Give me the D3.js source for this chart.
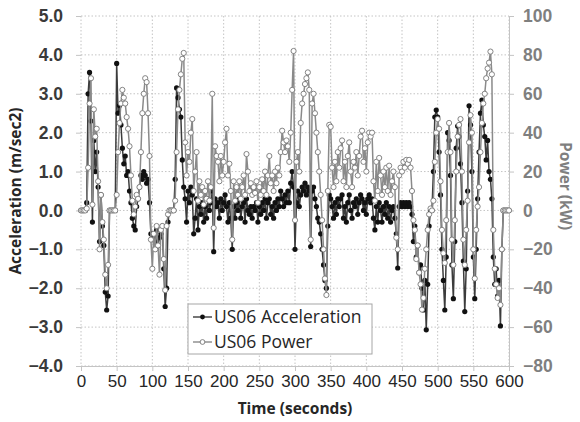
<!DOCTYPE html>
<html>
<head>
<meta charset="utf-8">
<script src="https://cdn.jsdelivr.net/npm/d3@7"></script>
<style>
  body { margin: 0; background: #fff; }
  svg { font-family: "Open Sans", sans-serif; }
</style>
</head>
<body>
<div id="chart"></div>
<script>
var sampleStep = 2;

var accel = [
  0,0,0,0,0.2,3.0,3.55,2.3,-0.3,1.8,
  1.0,1.5,0.6,-0.8,0.4,-0.4,-0.9,-2.1,-2.56,-2.2,
  0,0,0,0,0,3.78,2.5,2.7,2.2,1.6,
  1.2,1.4,0.9,1.0,0.5,0.2,-0.2,-0.4,-0.5,0.1,
  0.3,0.6,0.9,0.8,1.0,0.9,0.7,0.8,0.2,-0.6,
  -0.7,-0.6,-0.8,-0.5,-0.9,-0.7,-0.6,-0.4,-1.5,-2.47,
  -2.0,-0.3,0,0,0,0,0.8,3.15,2.9,2.6,
  2.4,1.3,0.6,0.3,-0.3,0.5,0.2,0.6,0.4,-0.6,
  -0.2,0.3,-0.5,0.1,-0.1,0.2,-0.3,0.1,-0.2,0.3,
  0,0.2,0.5,-1.06,0.3,0.1,0.2,-0.2,0.3,0,
  0.2,0.4,0.1,-0.3,0.2,-0.2,-1.0,0.1,-0.2,0.2,
  0,0.3,-0.2,0.1,0.2,-0.3,0.3,0,-0.1,0.1,
  -0.2,0.1,0,0.2,-0.3,0.1,-0.1,0.2,0,0.3,
  -0.2,0.2,0.3,-0.1,0.1,-0.2,0.2,0,0.3,0.1,
  0.5,0.3,0.1,0.4,0.2,0.5,0.2,0.7,1.0,0.6,
  -1.0,0.2,0.5,0.1,0.4,0.6,0.5,0.7,0.4,0.6,
  0.5,-0.93,0.5,0.6,0.3,0.1,-0.2,-0.3,-0.6,-1.0,
  -1.4,-1.8,-2.0,-0.4,0.4,0.3,0.1,-0.2,0.2,-0.1,
  0.3,0.1,0.3,0.4,-0.2,0.1,-0.3,0.2,0.4,0,
  -0.2,0.2,0.1,0.3,-0.1,0.2,0.4,0.3,0,0.2,
  -0.1,0.3,0.4,0.2,0.3,-0.2,-0.5,0.1,-0.3,0.2,
  0,-0.3,0.1,-0.1,0.2,-0.2,0.1,-0.3,0,0.1,
  -0.2,-0.6,-1.48,0.1,0.2,0.1,0.2,0.1,0.2,0.1,
  0.2,0.1,-0.1,-0.8,-0.4,-1.2,-0.9,-1.6,-1.4,-2.0,
  -2.56,-1.8,-3.07,-1.9,-0.4,0,0,1.0,2.4,2.58,
  2.4,1.5,0.4,-1.0,-1.8,-2.56,-1.2,2.0,1.8,0.9,
  -1.4,-2.27,-0.8,1.6,2.17,1.9,1.2,0.2,-1.3,-2.6,
  -1.5,0.5,2.69,2.2,1.0,-1.2,-2.27,-1.0,0.3,1.5,
  2.5,2.84,2.2,1.9,1.3,1.8,1.0,0.8,0.3,-1.2,
  -1.9,-1.5,-2.2,-1.8,-2.97,-1.0,0,0,0,0,
  0
];

var power = [
  0,0,0,0,1,22,55,68,3,52,
  38,42,15,-20,8,-6,-15,-33,-40,-28,
  0,0,0,0,0,8,30,45,55,62,
  58,55,48,42,33,18,5,-2,2,8,
  6,12,30,50,60,68,66,50,28,-15,
  -30,-12,-20,-8,-18,-33,-10,-8,-25,-41,
  -8,-2,0,0,0,0,5,30,52,62,
  70,78,81,35,18,30,25,40,47,10,
  20,30,5,15,8,12,3,10,6,15,
  5,12,60,-9,33,28,25,15,28,18,
  25,35,42,18,24,10,-15,15,5,12,
  8,15,6,12,18,8,29,20,10,14,
  8,12,9,15,4,12,8,16,10,20,
  8,18,28,14,18,10,20,14,22,18,
  30,41,35,30,36,33,25,40,62,82,
  -5,25,30,20,45,55,60,65,68,71,
  62,-15,55,60,50,40,30,20,8,-5,
  -20,-35,-43.5,10,44,43,22,12,25,15,
  30,22,32,36,15,25,12,28,35,20,
  12,25,22,30,18,28,38,41,25,32,
  20,35,40,38,40,15,5,25,10,27,
  18,8,20,12,22,10,23,8,15,20,
  12,-14,-20,18,22,20,25,22,26,24,
  26,22,10,-5,-10,-25,-18,-32,-38,-51,
  -45,-30,-20,-10,-2,1,0,5,25,40,
  47,42,15,-10,-22,-27,-5,30,45,30,
  -15,-28,-5,20,38,44,47,20,-15,-28,
  -10,5,35,49,40,-20,-35,-10,2,12,
  30,45,55,60,68,73,76,81.7,70,-10,
  -30,-38,-45,-40,-48.6,-20,0,0,0,0,
  0
];

var timeTicks = [0,50,100,150,200,250,300,350,400,450,500,550,600];
var accelTicks = [-4,-3,-2,-1,0,1,2,3,4,5];
var powerTicks = [-80,-60,-40,-20,0,20,40,60,80,100];
var seriesNames = ["US06 Acceleration", "US06 Power"];

var width = 580, height = 422;
var margin = {left: 81, right: 71, top: 16, bottom: 56};

var svg = d3.select("#chart").append("svg")
  .attr("width", width).attr("height", height);

var x = d3.scaleLinear().domain([0, 600]).range([margin.left, width - margin.right]);
var yA = d3.scaleLinear().domain([-4, 5]).range([height - margin.bottom, margin.top]);
var yP = d3.scaleLinear().domain([-80, 100]).range([height - margin.bottom, margin.top]);

var gridColor = "#c4c4c4";

/* grid */
svg.append("g").selectAll("line").data(accelTicks).enter().append("line")
  .attr("x1", x(0)).attr("x2", x(600))
  .attr("y1", function(d){ return yA(d); }).attr("y2", function(d){ return yA(d); })
  .style("stroke", gridColor).style("stroke-dasharray", "1.5,2");
svg.append("g").selectAll("line").data(timeTicks).enter().append("line")
  .attr("x1", function(d){ return x(d); }).attr("x2", function(d){ return x(d); })
  .attr("y1", yA(5)).attr("y2", yA(-4))
  .style("stroke", gridColor).style("stroke-dasharray", "1.5,2");

/* axes */
var xAxis = svg.append("g").attr("transform", "translate(0," + yA(-4) + ")")
  .call(d3.axisBottom(x).tickValues(timeTicks).tickSize(5).tickPadding(4));
var leftAxis = svg.append("g").attr("transform", "translate(" + x(0) + ",0)")
  .call(d3.axisLeft(yA).tickValues(accelTicks).tickSize(5).tickPadding(13).tickFormat(d3.format(".1f")));
var rightAxis = svg.append("g").attr("transform", "translate(" + x(600) + ",0)")
  .call(d3.axisRight(yP).tickValues(powerTicks).tickSize(5).tickPadding(9));

[xAxis, leftAxis, rightAxis].forEach(function(a){
  a.selectAll("path, line").style("stroke", gridColor);
});
leftAxis.select("path").remove();
xAxis.selectAll("text").style("font-size", "17px").style("fill", "#262626");
leftAxis.selectAll("text").style("font-size", "17.5px").style("font-weight", "bold").style("fill", "#3a3a3a");
rightAxis.selectAll("text").style("font-size", "17.5px").style("font-weight", "bold").style("fill", "#7f7f7f");

/* titles */
svg.append("text").text("Acceleration (m/sec2)")
  .attr("transform", "translate(21," + ((yA(5) + yA(-4)) / 2) + ") rotate(-90)")
  .style("text-anchor", "middle").style("font-size", "15.5px").style("font-weight", "bold").style("fill", "#262626");
svg.append("text").text("Power (kW)")
  .attr("transform", "translate(560," + ((yA(5) + yA(-4)) / 2 - 5) + ") rotate(90)")
  .style("text-anchor", "middle").style("font-size", "15.5px").style("font-weight", "bold").style("fill", "#7f7f7f");
svg.append("text").text("Time (seconds)")
  .attr("x", (x(0) + x(600)) / 2 + 0).attr("y", 414)
  .style("text-anchor", "middle").style("font-size", "15.5px").style("font-weight", "bold").style("fill", "#262626");

/* series */
var pts = function(vals, yScale){
  return vals.map(function(v, i){ return [x(i * sampleStep), yScale(v)]; });
};
var line = d3.line();
var accPts = pts(accel, yA), powPts = pts(power, yP);

svg.append("path").attr("d", line(accPts))
  .style("fill", "none").style("stroke", "#3c3c3c").style("stroke-width", 1.5);
svg.append("g").selectAll("circle").data(accPts).enter().append("circle")
  .attr("cx", function(d){ return d[0]; }).attr("cy", function(d){ return d[1]; })
  .attr("r", 2.6).style("fill", "#111");

svg.append("path").attr("d", line(powPts))
  .style("fill", "none").style("stroke", "#8a8a8a").style("stroke-width", 1.5);
svg.append("g").selectAll("circle").data(powPts).enter().append("circle")
  .attr("cx", function(d){ return d[0]; }).attr("cy", function(d){ return d[1]; })
  .attr("r", 2.6).style("fill", "#fff").style("stroke", "#777").style("stroke-width", 0.9);

/* legend */
var lg = svg.append("g").attr("transform", "translate(188,304)");
lg.append("rect").attr("width", 184).attr("height", 50)
  .style("fill", "#fff").style("stroke", "#a6a6a6");
var entries = [
  {name: seriesNames[0], stroke: "#3c3c3c", fill: "#111", ms: "none"},
  {name: seriesNames[1], stroke: "#8a8a8a", fill: "#fff", ms: "#777"}
];
entries.forEach(function(e, i){
  var cy = 13 + i * 25;
  lg.append("line").attr("x1", 5).attr("x2", 24).attr("y1", cy).attr("y2", cy)
    .style("stroke", e.stroke).style("stroke-width", 1.4);
  lg.append("circle").attr("cx", 14.5).attr("cy", cy).attr("r", 2.4)
    .style("fill", e.fill).style("stroke", e.ms).style("stroke-width", 0.9);
  lg.append("text").text(e.name).attr("x", 26).attr("y", cy + 6)
    .style("font-size", "17.5px").style("fill", "#262626");
});
</script>
</body>
</html>
